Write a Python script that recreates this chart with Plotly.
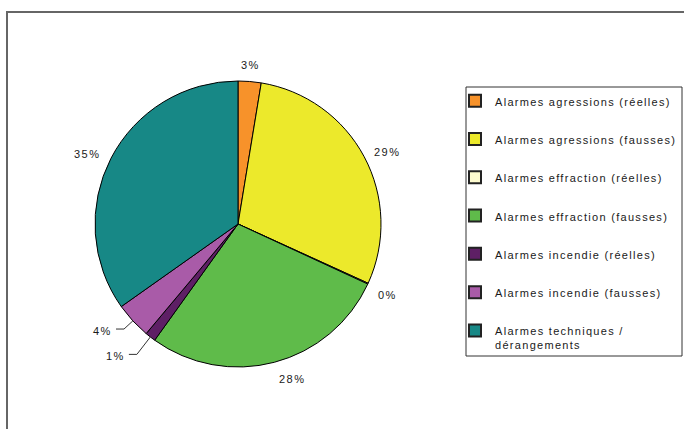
import math
import plotly.graph_objects as go

# ---- data ----
labels = [
    "Alarmes agressions (réelles)",
    "Alarmes agressions (fausses)",
    "Alarmes effraction (réelles)",
    "Alarmes effraction (fausses)",
    "Alarmes incendie (réelles)",
    "Alarmes incendie (fausses)",
    "Alarmes techniques /<br>dérangements",
]
values = [2.6, 29.2, 0.1, 28.0, 1.2, 4.1, 34.8]
colors = ["#F7922A", "#ECE92B", "#FDFBCF", "#5FBB4A", "#5E1F65", "#A95BA8", "#178886"]

# ---- style / layout constants ----
W, H = 684, 429
CX, CY, R = 238, 224, 143
LEADER_EXTRA = {4: 22, 5: 12}   # crowded small slices get leader lines
FONT = "Liberation Sans, Arial, sans-serif"
TXT = "#1a1a1a"


def px(x):
    return x / W


def py(y):
    return 1 - y / H


def spaced(text, ls):
    return "<br>".join(
        f'<span style="letter-spacing:{ls}px">{part}</span>' for part in text.split("<br>")
    )


fig = go.Figure()
fig.add_trace(go.Pie(
    values=values, labels=labels,
    marker=dict(colors=colors, line=dict(color="#000000", width=1)),
    sort=False, direction="clockwise", rotation=0,
    textinfo="none", showlegend=False,
    domain=dict(x=[px(CX - R), px(CX + R)], y=[py(CY + R), py(CY - R)]),
))

# legend entries (one group each so they can be spaced like the original)
for i, (lab, col) in enumerate(zip(labels, colors)):
    fig.add_trace(go.Scatter(
        x=[None], y=[None], mode="markers", name=spaced(lab, 1.3), legendgroup=f"g{i}",
        marker=dict(symbol="square", size=9, color=col, line=dict(color="#222222", width=1)),
        hoverinfo="skip",
    ))

annotations = []
shapes = []
total = sum(values)
cum = 0.0
for i, v in enumerate(values):
    mid = (cum + v / 2) / total * 2 * math.pi
    cum += v
    s, c = math.sin(mid), math.cos(mid)
    txt = spaced(f"{round(v / total * 100)}%", 1.5)
    if i in LEADER_EXTRA:
        e = LEADER_EXTRA[i]
        x0, y0 = CX + R * s, CY - R * c
        x1, y1 = CX + (R + e) * s, CY - (R + e) * c
        x2 = x1 - 8 if s < 0 else x1 + 8
        shapes.append(dict(
            type="path", xref="paper", yref="paper",
            path=f"M {px(x0)},{py(y0)} L {px(x1)},{py(y1)} L {px(x2)},{py(y1)}",
            line=dict(color="#333333", width=1),
        ))
        annotations.append(dict(
            x=px(x2 - 2 if s < 0 else x2 + 2), y=py(y1 + 2), xref="paper", yref="paper",
            text=txt, showarrow=False,
            xanchor="right" if s < 0 else "left", yanchor="middle",
            font=dict(family=FONT, size=11, color=TXT),
        ))
    else:
        d = R + 9
        lx, ly = CX + d * s, CY - d * c
        xa = "left" if s > 0.2 else ("right" if s < -0.2 else "center")
        ya = "bottom" if c > 0.5 else ("top" if c < -0.3 else "middle")
        annotations.append(dict(
            x=px(lx), y=py(ly), xref="paper", yref="paper",
            text=txt, showarrow=False, xanchor=xa, yanchor=ya,
            font=dict(family=FONT, size=11, color=TXT),
        ))

# outer frame of the chart area
shapes.append(dict(
    type="rect", xref="paper", yref="paper",
    x0=px(7), x1=1.02, y0=-0.02, y1=py(12),
    line=dict(color="#666666", width=2), fillcolor="rgba(0,0,0,0)",
))
# legend box frame
shapes.append(dict(
    type="rect", xref="paper", yref="paper",
    x0=px(466), x1=px(682), y0=py(356), y1=py(87),
    line=dict(color="#333333", width=1), fillcolor="rgba(0,0,0,0)",
))

fig.update_layout(
    width=W, height=H,
    margin=dict(l=0, r=0, t=0, b=0),
    paper_bgcolor="white", plot_bgcolor="white",
    xaxis=dict(visible=False), yaxis=dict(visible=False),
    showlegend=True,
    legend=dict(
        x=px(455), xanchor="left", y=py(87), yanchor="top",
        borderwidth=0, bgcolor="rgba(0,0,0,0)",
        font=dict(family=FONT, size=11, color=TXT),
        traceorder="grouped", tracegroupgap=19.3, valign="top",
        itemsizing="constant",
    ),
    annotations=annotations,
    shapes=shapes,
    font=dict(family=FONT),
)

fig.write_html(
    "out.html",
    config={"displayModeBar": False},
    post_script="document.body.style.margin='0';",
)
